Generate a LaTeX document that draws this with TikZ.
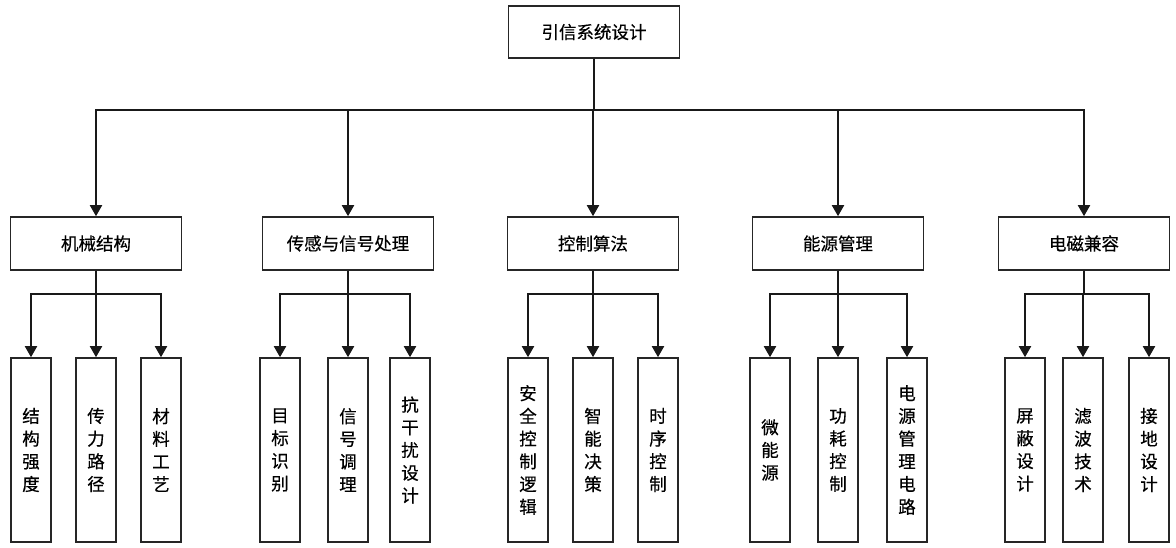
\documentclass[tikz,border=0pt]{standalone}
\usepackage{fontspec}
\newfontfamily\cjk[FakeBold=0.4]{Noto Sans CJK SC}
\usetikzlibrary{arrows.meta}
\begin{document}
\begin{tikzpicture}[x=1pt,y=-1pt,
  box/.style={draw=black!85, line width=1.6pt, inner sep=0pt, fill=white,
    font=\cjk\fontsize{17.5}{22.7}\selectfont},
  topbox/.style={box, minimum width=171pt, minimum height=52pt},
  midbox/.style={box, minimum width=171pt, minimum height=53pt},
  leaf/.style={box, minimum width=40pt, minimum height=184pt, align=center},
  arr/.style={draw=black!90, line width=1.9pt, -{Triangle[length=11pt,width=12pt]}}
]
\useasboundingbox (0,0) rectangle (1176,548);
\fill[white] (0,0) rectangle (1176,548);

\node[topbox] (top) at (594,32) {引信系统设计};

\node[midbox] (m1) at (96,243.5) {机械结构};
\node[midbox] (m2) at (348,243.5) {传感与信号处理};
\node[midbox] (m3) at (593,243.5) {控制算法};
\node[midbox] (m4) at (838,243.5) {能源管理};
\node[midbox] (m5) at (1084,243.5) {电磁兼容};

\coordinate (bus) at (594,110);
\foreach \m in {m1,m2,m3,m4,m5}{
  \draw[arr] (top.south) -- (bus) -| (\m.north);
}

% leaves
\node[leaf] (l11) at (31,450) {结\\构\\强\\度};
\node[leaf] (l12) at (96,450) {传\\力\\路\\径};
\node[leaf] (l13) at (161,450) {材\\料\\工\\艺};

\node[leaf] (l21) at (280,450) {目\\标\\识\\别};
\node[leaf] (l22) at (348,450) {信\\号\\调\\理};
\node[leaf] (l23) at (410,450) {抗\\干\\扰\\设\\计};

\node[leaf] (l31) at (528,450) {安\\全\\控\\制\\逻\\辑};
\node[leaf] (l32) at (593,450) {智\\能\\决\\策};
\node[leaf] (l33) at (658,450) {时\\序\\控\\制};

\node[leaf] (l41) at (770,450) {微\\能\\源};
\node[leaf] (l42) at (838,450) {功\\耗\\控\\制};
\node[leaf] (l43) at (907,450) {电\\源\\管\\理\\电\\路};

\node[leaf] (l51) at (1025,450) {屏\\蔽\\设\\计};
\node[leaf] (l52) at (1083,450) {滤\\波\\技\\术};
\node[leaf] (l53) at (1149,450) {接\\地\\设\\计};

\foreach \i in {1,...,5}{
  \path (m\i.south) ++(0,23) coordinate (b\i);
  \foreach \j in {1,2,3}{
    \draw[arr] (m\i.south) -- (b\i) -| (l\i\j.north);
  }
}
\end{tikzpicture}
\end{document}
